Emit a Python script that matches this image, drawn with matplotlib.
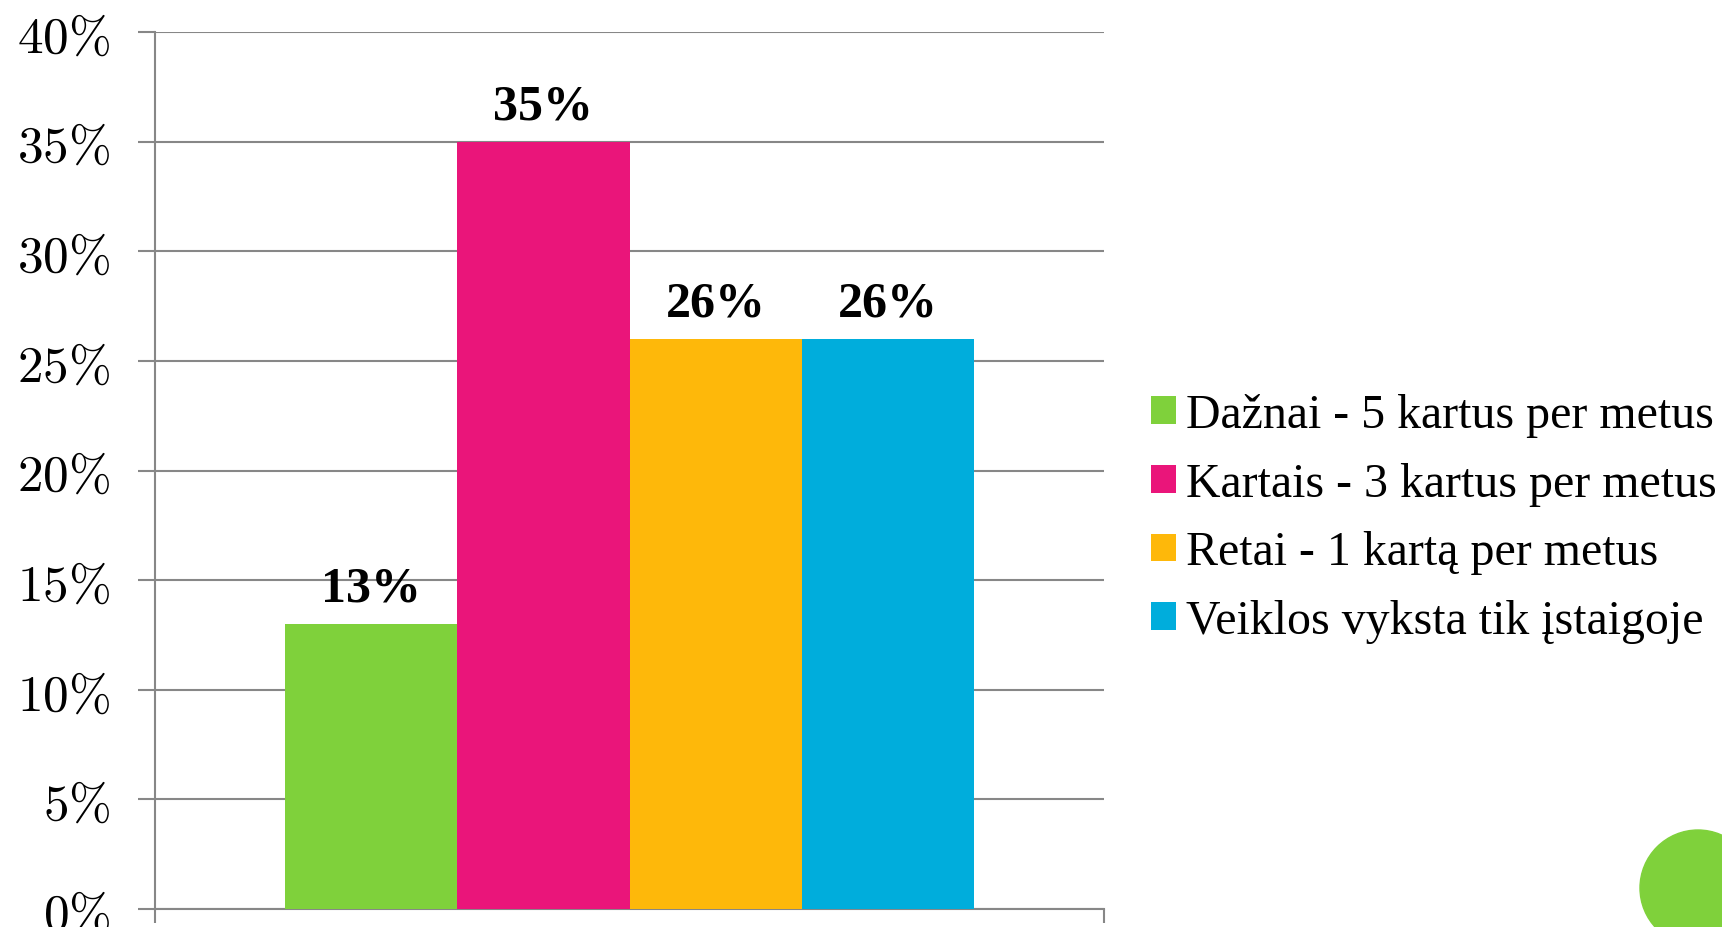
import matplotlib.pyplot as plt
from matplotlib.patches import Ellipse

# Дані
categories = ['Dažnai - 5 kartus per metus',
              'Kartais - 3 kartus per metus',
              'Retai - 1 kartą per metus',
              'Veiklos vyksta tik įstaigoje']
values = [13, 35, 26, 26]
colors = ['#7FD13B', '#EA157A', '#FEB80A', '#00ADDC']
y_ticks = [0, 5, 10, 15, 20, 25, 30, 35, 40]


def main():
    plt.rcParams['mathtext.fontset'] = 'cm'
    fig = plt.figure(figsize=(17.22, 9.28), dpi=100)
    ax = fig.add_axes([155 / 1722, 1 - 910 / 928, (1104 - 155) / 1722, (910 - 33) / 928])

    grey = '#878787'
    w = 0.1817
    for i, (cat, val, col) in enumerate(zip(categories, values, colors)):
        x = 0.5 + (i - 1.5) * w
        bars = ax.bar(x, val, width=w, color=col, label=cat, zorder=3)
        ax.bar_label(bars, labels=[f'{val}%'], padding=9,
                     fontsize=36, fontweight='bold', family='Liberation Serif')

    ax.set_xlim(0, 1)
    ax.set_ylim(0, 40)
    ax.set_yticks(y_ticks)
    ax.set_yticklabels([rf'$\mathrm{{{t}\%}}$' for t in y_ticks], fontsize=37)
    ax.set_xticks([0, 1])
    ax.set_xticklabels(['', ''])
    ax.tick_params(axis='y', length=12, width=1.5, color=grey, pad=20)
    ax.tick_params(axis='x', length=10, width=1.5, color=grey)
    ax.yaxis.grid(True, color=grey, linewidth=1.5, zorder=0)
    ax.set_axisbelow(True)
    for side in ['top', 'right']:
        ax.spines[side].set_visible(False)
    for side in ['left', 'bottom']:
        ax.spines[side].set_color(grey)
        ax.spines[side].set_linewidth(1.5)

    # Legenda
    fig.legend(loc='center left', bbox_to_anchor=(1132 / 1722, 1 - 519 / 928),
               frameon=False, prop={'family': 'Liberation Serif', 'size': 34.5},
               handlelength=0.52, handleheight=0.52, handletextpad=0.2,
               labelspacing=0.52, borderaxespad=0)

    # Dekoratyvus apskritimas
    fig.patches.append(Ellipse((1698 / 1722, 1 - 889 / 928), 116 / 1722, 116 / 928,
                               color='#7FD13B', transform=fig.transFigure, figure=fig))

    fig.savefig('out.png', dpi=100)


if __name__ == "__main__":
    main()
